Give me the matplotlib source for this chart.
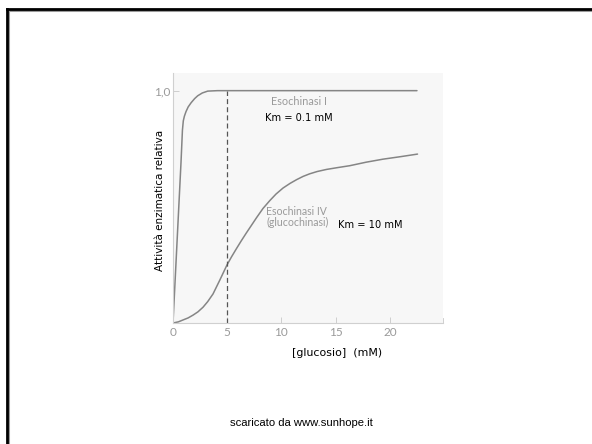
import matplotlib
matplotlib.use("Agg")
import matplotlib.pyplot as plt
from matplotlib.lines import Line2D

# Data
hk1_x = [0, 0.74, 0.87, 0.95, 1.05, 1.2, 1.4, 1.67, 2.0, 2.28, 2.7, 3.2, 4.1, 22.5]
hk1_y = [0, 0.693, 0.83, 0.87, 0.89, 0.91, 0.93, 0.948, 0.966, 0.978, 0.99, 0.998, 1.0, 1.0]

hk4_x = [0, 0.5, 0.92, 1.4, 1.85, 2.3, 2.77, 3.2, 3.69, 4.3, 4.98, 5.4, 5.85, 6.3, 6.77,
         7.2, 7.7, 8.3, 8.93, 9.5, 10.15, 10.8, 11.4, 12.0, 12.6, 13.3, 14.16, 15.2,
         16.3, 17.8, 19.35, 21.0, 22.55]
hk4_y = [0, 0.005, 0.013, 0.022, 0.034, 0.048, 0.068, 0.092, 0.125, 0.183, 0.25, 0.285,
         0.32, 0.354, 0.388, 0.418, 0.453, 0.493, 0.527, 0.555, 0.581, 0.601, 0.617,
         0.631, 0.642, 0.652, 0.661, 0.669, 0.677, 0.692, 0.705, 0.716, 0.727]

dashed_x = 5
x_ticks = [0, 5, 10, 15, 20]
x_ticklabels = ["0", "5", "10", "15", "20"]
y_ticks = [1.0]
y_ticklabels = ["1,0"]

W, H = 592, 444
fig = plt.figure(figsize=(W / 100, H / 100), dpi=100)
fig.patch.set_facecolor("white")

# slide frame (top and left), with shadow
for off, col, lw in [(1.2, "#9a9a9a", 2.2), (0, "black", 2.0)]:
    fig.add_artist(Line2D([7 / W + off / W, 1], [1 - 9 / H - off / H] * 2,
                          transform=fig.transFigure, color=col, lw=lw))
    fig.add_artist(Line2D([7 / W + off / W] * 2, [0, 1 - 9 / H - off / H],
                          transform=fig.transFigure, color=col, lw=lw))

ax = fig.add_axes([173 / W, 1 - 323 / H, (443 - 173) / W, (323 - 73) / H])
ax.set_facecolor("#f7f7f7")
curve_col = "#858585"
ax.plot(hk1_x, hk1_y, color=curve_col, lw=1.1, solid_capstyle="round",
        solid_joinstyle="round")
ax.plot(hk4_x, hk4_y, color=curve_col, lw=1.1, solid_capstyle="round",
        solid_joinstyle="round")
ax.plot([dashed_x, dashed_x], [0, 1.0], color="#555555", lw=0.9, ls=(0, (4, 2.5)))

ax.set_xlim(0, 24.9)
ax.set_ylim(0, 1.076)
ax.set_xticks(x_ticks)
ax.set_xticklabels(x_ticklabels)
ax.set_yticks(y_ticks)
ax.set_yticklabels(y_ticklabels)
ax.tick_params(axis="both", direction="in", length=4, width=0.6, color="#c8c8c8",
               labelcolor="#9a9a9a", labelsize=8.5, pad=3)
for lab in ax.get_xticklabels() + ax.get_yticklabels():
    lab.set_family("Lato")
ax.tick_params(axis="y", pad=2)
ax.spines["top"].set_visible(False)
ax.spines["right"].set_visible(False)
for s in ("left", "bottom"):
    ax.spines[s].set_color("#d0d0d0")
    ax.spines[s].set_linewidth(0.8)

# end tick at right end of x axis
ax.plot([24.9, 24.9], [0, 0.02], color="#c8c8c8", lw=0.6, clip_on=False)

gray_txt = "#9a9a9a"
ax.text(9.0, 0.955, "Esochinasi I", color=gray_txt, fontsize=7.8, family="Lato",
        ha="left", va="center")
ax.text(8.5, 0.882, "Km = 0.1 mM", color="black", fontsize=7.1, family="DejaVu Sans",
        ha="left", va="center")
ax.text(8.6, 0.457, "Esochinasi IV\n(glucochinasi)", color=gray_txt, fontsize=7.6,
        family="Lato", ha="left", va="center", linespacing=1.05)
ax.text(15.2, 0.422, "Km = 10 mM", color="black", fontsize=7.1, family="DejaVu Sans",
        ha="left", va="center")

fig.text(160 / W, 1 - 200 / H, "Attività enzimatica relativa", rotation=90,
         ha="center", va="center", fontsize=7.5, family="DejaVu Sans", color="black")
fig.text(337 / W, 1 - 353 / H, "[glucosio]  (mM)", ha="center", va="center",
         fontsize=7.9, family="DejaVu Sans", color="black")
fig.text(301 / W, 1 - 423 / H, "scaricato da www.sunhope.it", ha="center", va="center",
         fontsize=8.1, family="Liberation Sans", color="black")

fig.savefig("out.png", dpi=100, facecolor="white")
